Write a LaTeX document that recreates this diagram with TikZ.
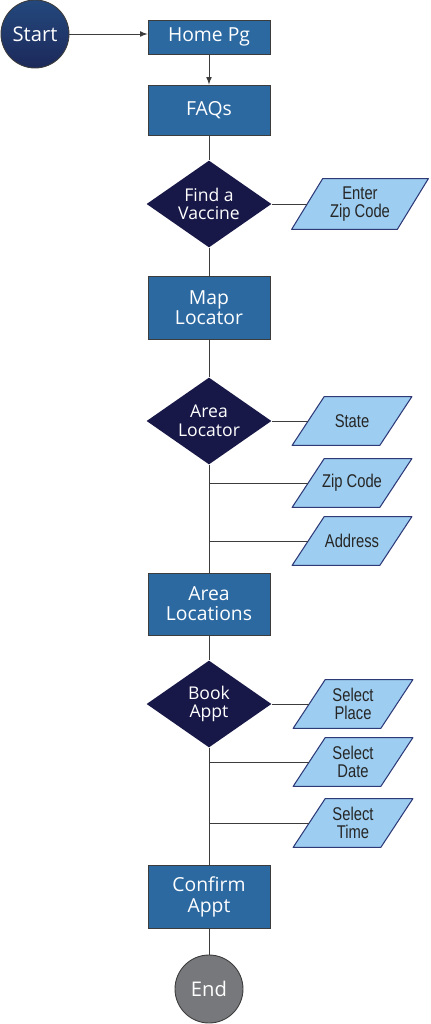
\documentclass[tikz,border=0pt]{standalone}
\usepackage{fontspec}
\setsansfont{Open Sans}
\newfontfamily\narrowfont[FakeStretch=0.8]{Liberation Sans}
\usepackage{xcolor}
\usetikzlibrary{shapes.geometric, arrows, positioning, calc, backgrounds}

\definecolor{boxblue}{HTML}{2C69A1}
\definecolor{darknavy}{HTML}{181848}
\definecolor{lightblue}{HTML}{9DCDF0}
\definecolor{edgeblue}{HTML}{2E3A78}
\definecolor{endgray}{HTML}{77787B}
\definecolor{linegray}{HTML}{3C3C3C}

\begin{document}
\begin{tikzpicture}[x=0.02cm,y=-0.02cm,>=latex,
    box/.style={rectangle,draw=linegray,line width=0.5pt,fill=boxblue,text=white,minimum width=2.44cm,inner sep=0pt,align=center,font=\sffamily\fontsize{11}{11.5}\selectfont},
    decision/.style={diamond,aspect=1.44,fill=darknavy,text=white,minimum width=2.5cm,minimum height=1.74cm,inner sep=0pt,align=center,font=\sffamily\fontsize{10}{10.5}\selectfont},
    inputbox/.style={rectangle,text=black!85,minimum width=1.74cm,minimum height=0.96cm,inner sep=0pt,align=center,font=\narrowfont\fontsize{10.5}{10}\selectfont},
    inputshape/.style={draw=edgeblue,line width=0.6pt,fill=lightblue,line join=round},
    terminal/.style={circle,draw=linegray,line width=0.5pt,text=white,minimum size=1.36cm,inner sep=0pt,font=\sffamily\fontsize{11.5}{12}\selectfont},
    link/.style={draw=linegray,line width=0.5pt}]
    \useasboundingbox (0,0) rectangle (431,1024);

    % Inizio e pagine
    \node[terminal,top color=boxblue!60!darknavy,bottom color=darknavy!80!boxblue] (start) at (35,34) {Start};
    \node[box,minimum height=0.68cm] (home) at (209,37) {Home Pg};
    \node[box,minimum height=1cm] (faqs) at (209,110) {FAQs};

    % Ricerca vaccino
    \node[decision] (vaccine) at (209,204) {Find a\\Vaccine};
    \node[inputbox,minimum width=2.1cm,minimum height=1cm] (enterzip) at (360,204) {Enter\\Zip Code};
    \node[box,minimum height=1.26cm] (map) at (209,308) {Map\\Locator};

    % Localizzazione
    \node[decision] (area) at (209,421) {Area\\Locator};
    \node[inputbox] (state) at (352,421) {State};
    \node[inputbox] (zip) at (352,483) {Zip Code};
    \node[inputbox] (address) at (352,541) {Address};
    \node[box,minimum height=1.24cm] (locations) at (209,604) {Area\\Locations};

    % Prenotazione
    \node[decision] (book) at (209,704) {Book\\Appt};
    \node[inputbox] (place) at (353,704) {Select\\Place};
    \node[inputbox] (date) at (353,762) {Select\\Date};
    \node[inputbox] (time) at (353,823) {Select\\Time};
    \node[box,minimum height=1.26cm] (confirm) at (209,897) {Confirm\\Appt};
    \node[terminal,fill=endgray] (end) at (209,989) {End};

    % Parallelogrammi di input
    \begin{scope}[on background layer]
        \draw[inputshape] ($(enterzip.south west)+(-15.5,0)$) -- ($(enterzip.south east)+(-15.5,0)$)
            -- ($(enterzip.north east)+(15.5,0)$) -- ($(enterzip.north west)+(15.5,0)$) -- cycle;
        \foreach \n in {state,zip,address,place,date,time}
            \draw[inputshape] ($(\n.south west)+(-16,0)$) -- ($(\n.south east)+(-16,0)$)
                -- ($(\n.north east)+(16,0)$) -- ($(\n.north west)+(16,0)$) -- cycle;
    \end{scope}

    % Collegamenti
    \draw[->,link] (start) -- (start -| home.west);
    \draw[->,link] (home) -- (faqs);
    \draw[link] (faqs) -- (vaccine);
    \draw[link] (vaccine) -- (enterzip);
    \draw[link] (vaccine) -- (map);
    \draw[link] (map) -- (area);
    \draw[link] (area) -- (state);
    \draw[link] (area) -- (locations);
    \draw[link] (area.south |- zip.west) -- (zip);
    \draw[link] (area.south |- address.west) -- (address);
    \draw[link] (locations) -- (book);
    \draw[link] (book) -- (place);
    \draw[link] (book) -- (confirm);
    \draw[link] (book.south |- date.west) -- (date);
    \draw[link] (book.south |- time.west) -- (time);
    \draw[link] (confirm) -- (end);
\end{tikzpicture}
\end{document}
